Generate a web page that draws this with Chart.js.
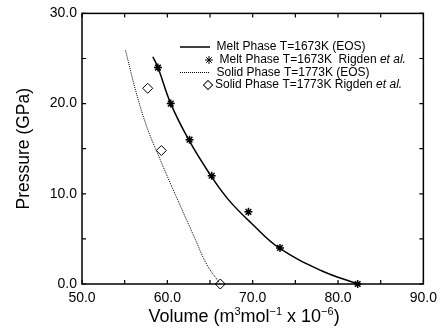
<!DOCTYPE html>
<html>
<head>
<meta charset="utf-8">
<script src="https://cdn.jsdelivr.net/npm/chart.js@4"></script>
<style>
    html, body { margin: 0; padding: 0; background: #fff; }
    #wrap { width: 443px; height: 332px; }
</style>
</head>
<body>
<div id="wrap"><canvas id="chart" width="443" height="332"></canvas></div>
<script>
// EOS curves
const meltEosVolume = [58.3, 58.9, 60.4, 62.5, 65.1, 67.2, 70.0, 73.1, 78.0, 82.3];
const meltEosPressure = [25.2, 24.0, 20.0, 16.0, 12.0, 9.3, 6.6, 4.0, 1.5, 0.0];
const solidEosVolume = [55.1, 56.3, 57.6, 58.8, 60.2, 61.6, 63.3, 64.6, 66.2];
const solidEosPressure = [25.9, 21.4, 17.4, 14.6, 11.5, 8.5, 4.9, 2.2, 0.0];

// Rigden et al. measurements
const meltRigdenVolume = [58.9, 60.4, 62.6, 65.2, 69.5, 73.2, 82.3];
const meltRigdenPressure = [24.0, 20.0, 16.0, 12.0, 8.0, 4.0, 0.0];
const solidRigdenVolume = [57.7, 59.3, 66.2];
const solidRigdenPressure = [21.7, 14.8, 0.0];

const xTicks = [50, 60, 70, 80, 90];
const xMinorTicks = [55, 65, 75, 85];
const yTicks = [0, 10, 20, 30];
const yMinorTicks = [5, 15, 25];

const legendLabels = [
    'Melt Phase T=1673K (EOS)',
    'Melt Phase T=1673K  Rigden ',
    'Solid Phase T=1773K (EOS)',
    'Solid Phase T=1773K Rigden '
];

const FONT = '"Liberation Sans", Arial, Helvetica, sans-serif';

function toPoints(xs, ys) {
    return xs.map((x, i) => ({ x: x, y: ys[i] }));
}

// inward ticks on all four sides, plot frame, legend and x title
const decorations = {
    id: 'decorations',
    afterDraw(chart) {
        const ctx = chart.ctx;
        const area = chart.chartArea;
        const xs = chart.scales.x;
        const ys = chart.scales.y;
        const len = 4;

        ctx.save();
        ctx.strokeStyle = '#000';
        ctx.lineWidth = 1.5;
        ctx.strokeRect(area.left, area.top, area.right - area.left, area.bottom - area.top);

        ctx.lineWidth = 1.2;
        ctx.beginPath();
        xTicks.concat(xMinorTicks).forEach(v => {
            const px = xs.getPixelForValue(v);
            ctx.moveTo(px, area.bottom); ctx.lineTo(px, area.bottom - len);
            ctx.moveTo(px, area.top); ctx.lineTo(px, area.top + len);
        });
        yTicks.concat(yMinorTicks).forEach(v => {
            const py = ys.getPixelForValue(v);
            ctx.moveTo(area.left, py); ctx.lineTo(area.left + len, py);
            ctx.moveTo(area.right, py); ctx.lineTo(area.right - len, py);
        });
        ctx.stroke();

        // legend
        const rows = [47, 60, 72.5, 85];
        ctx.fillStyle = '#000';
        ctx.textBaseline = 'middle';
        ctx.textAlign = 'left';

        ctx.lineWidth = 1.5;
        ctx.setLineDash([]);
        ctx.beginPath();
        ctx.moveTo(180, rows[0]); ctx.lineTo(210, rows[0]);
        ctx.stroke();

        ctx.lineWidth = 1;
        ctx.setLineDash([1, 1]);
        ctx.beginPath();
        ctx.moveTo(180, rows[2]); ctx.lineTo(210, rows[2]);
        ctx.stroke();
        ctx.setLineDash([]);

        Chart.helpers.drawPoint(ctx, { pointStyle: 'star', radius: 4, borderWidth: 1.5, rotation: 0 }, 209, rows[1]);
        ctx.fillStyle = '#fff';
        ctx.lineWidth = 1;
        Chart.helpers.drawPoint(ctx, { pointStyle: 'rectRot', radius: 4.5, borderWidth: 1, rotation: 0 }, 208, rows[3]);
        ctx.fill();
        ctx.stroke();

        ctx.fillStyle = '#000';
        const starts = [216.5, 219.5, 216.5, 215];
        legendLabels.forEach((t, i) => {
            ctx.font = '12px ' + FONT;
            ctx.fillText(t, starts[i], rows[i]);
            if (i === 1 || i === 3) {
                const w = ctx.measureText(t).width;
                ctx.font = 'italic 12px ' + FONT;
                ctx.fillText('et al.', starts[i] + w, rows[i]);
            }
        });

        // x title with superscripts
        const parts = [
            ['Volume (m', false], ['3', true], ['mol', false], ['\u22121', true],
            [' x 10', false], ['\u22126', true], [')', false]
        ];
        const big = '18px ' + FONT;
        const small = '11px ' + FONT;
        let total = 0;
        parts.forEach(p => { ctx.font = p[1] ? small : big; total += ctx.measureText(p[0]).width; });
        let x = 244 - total / 2;
        const base = 322;
        ctx.textBaseline = 'alphabetic';
        parts.forEach(p => {
            ctx.font = p[1] ? small : big;
            ctx.fillText(p[0], x, p[1] ? base - 7.5 : base);
            x += ctx.measureText(p[0]).width;
        });
        ctx.restore();
    }
};

const ctx = document.getElementById('chart').getContext('2d');

new Chart(ctx, {
    type: 'scatter',
    data: {
        datasets: [{
            label: 'Melt Phase T=1673K (EOS)',
            data: toPoints(meltEosVolume, meltEosPressure),
            showLine: true,
            borderColor: '#000',
            borderWidth: 1.5,
            pointRadius: 0,
            tension: 0.4
        }, {
            label: 'Melt Phase T=1673K Rigden et al.',
            data: toPoints(meltRigdenVolume, meltRigdenPressure),
            pointStyle: 'star',
            pointRadius: 4,
            borderColor: '#000',
            borderWidth: 1.5
        }, {
            label: 'Solid Phase T=1773K (EOS)',
            data: toPoints(solidEosVolume, solidEosPressure),
            showLine: true,
            borderColor: '#000',
            borderWidth: 1,
            borderDash: [1, 1],
            pointRadius: 0,
            tension: 0.4
        }, {
            label: 'Solid Phase T=1773K Rigden et al.',
            data: toPoints(solidRigdenVolume, solidRigdenPressure),
            pointStyle: 'rectRot',
            pointRadius: 5,
            backgroundColor: '#fff',
            borderColor: '#000',
            borderWidth: 1
        }]
    },
    options: {
        responsive: false,
        animation: false,
        clip: false,
        layout: { padding: { left: 0, right: 16, top: 12, bottom: 0 } },
        plugins: {
            legend: { display: false },
            tooltip: { enabled: false }
        },
        scales: {
            x: {
                type: 'linear',
                min: 50,
                max: 90,
                afterFit(scale) { scale.height = 48; },
                afterBuildTicks(scale) { scale.ticks = xTicks.map(v => ({ value: v })); },
                grid: { display: false, drawTicks: false },
                border: { display: false },
                ticks: {
                    padding: 6,
                    color: '#000',
                    font: { family: FONT, size: 14 },
                    callback: v => v.toFixed(1)
                }
            },
            y: {
                type: 'linear',
                min: 0,
                max: 30,
                afterFit(scale) { scale.width = 82; },
                afterBuildTicks(scale) { scale.ticks = yTicks.map(v => ({ value: v })); },
                grid: { display: false, drawTicks: false },
                border: { display: false },
                ticks: {
                    padding: 5,
                    color: '#000',
                    font: { family: FONT, size: 14 },
                    callback: v => v.toFixed(1)
                },
                title: {
                    display: true,
                    text: 'Pressure (GPa)',
                    color: '#000',
                    font: { family: FONT, size: 17.5 },
                    padding: { top: 14, bottom: 0 }
                }
            }
        }
    },
    plugins: [decorations]
});
</script>
</body>
</html>
